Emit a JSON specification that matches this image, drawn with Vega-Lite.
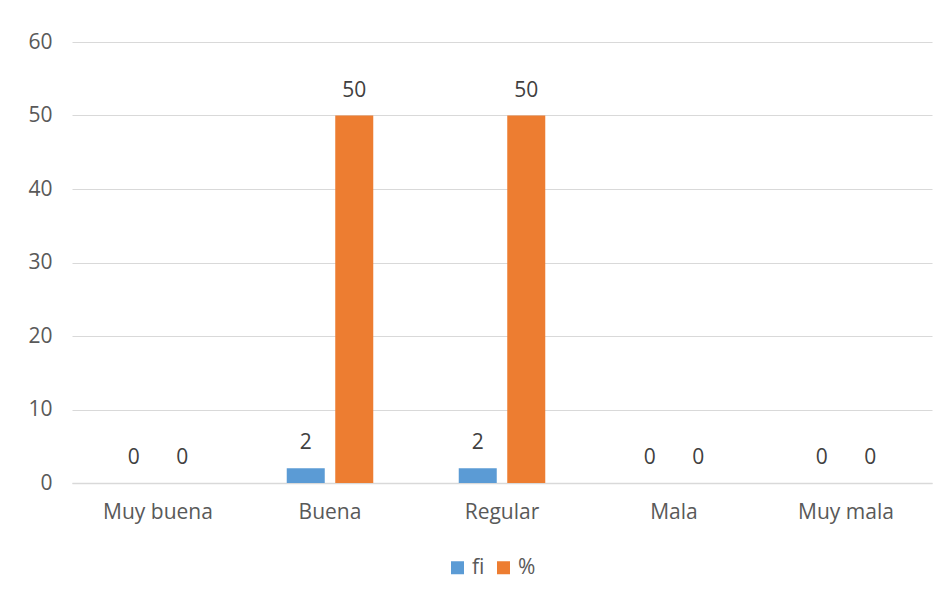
{
  "$schema": "https://vega.github.io/schema/vega-lite/v6.json",
  "width": 860,
  "height": 441,
  "autosize": {"type": "none"},
  "padding": {"left": 72, "top": 42, "right": 16, "bottom": 117},
  "background": "white",
  "config": {
    "view": {"stroke": null},
    "font": "Open Sans"
  },
  "data": {
    "values": [
      {"categoria": "Muy buena", "serie": "fi", "valor": 0},
      {"categoria": "Muy buena", "serie": "%", "valor": 0},
      {"categoria": "Buena", "serie": "fi", "valor": 2},
      {"categoria": "Buena", "serie": "%", "valor": 50},
      {"categoria": "Regular", "serie": "fi", "valor": 2},
      {"categoria": "Regular", "serie": "%", "valor": 50},
      {"categoria": "Mala", "serie": "fi", "valor": 0},
      {"categoria": "Mala", "serie": "%", "valor": 0},
      {"categoria": "Muy mala", "serie": "fi", "valor": 0},
      {"categoria": "Muy mala", "serie": "%", "valor": 0}
    ]
  },
  "encoding": {
    "x": {
      "field": "categoria",
      "type": "nominal",
      "sort": ["Muy buena", "Buena", "Regular", "Mala", "Muy mala"],
      "scale": {"paddingInner": 0, "paddingOuter": 0},
      "axis": {
        "title": null,
        "labelAngle": 0,
        "ticks": false,
        "grid": false,
        "domainColor": "#D9D9D9",
        "domainWidth": 1.5,
        "labelColor": "#595959",
        "labelFontSize": 21,
        "labelPadding": 18
      }
    },
    "xOffset": {
      "field": "serie",
      "sort": ["fi", "%"],
      "scale": {"paddingInner": 0.2165, "paddingOuter": 0.881}
    },
    "y": {
      "field": "valor",
      "type": "quantitative",
      "scale": {"domain": [0, 60]},
      "axis": {
        "title": null,
        "values": [0, 10, 20, 30, 40, 50, 60],
        "domain": false,
        "ticks": false,
        "gridColor": "#D9D9D9",
        "gridWidth": 1,
        "labelColor": "#595959",
        "labelFontSize": 21,
        "labelPadding": 20
      }
    }
  },
  "layer": [
    {
      "mark": {"type": "bar"},
      "encoding": {
        "color": {
          "field": "serie",
          "type": "nominal",
          "sort": ["fi", "%"],
          "scale": {"domain": ["fi", "%"], "range": ["#5B9BD5", "#ED7D31"]},
          "legend": {
            "title": null,
            "orient": "none",
            "direction": "horizontal",
            "legendX": 375,
            "legendY": 515,
            "symbolType": "square",
            "symbolSize": 169,
            "symbolStrokeWidth": 0,
            "labelFontSize": 21,
            "labelColor": "#595959",
            "labelOffset": 4,
            "columnPadding": 8
          }
        }
      }
    },
    {
      "mark": {"type": "text", "baseline": "alphabetic", "dy": -19, "fontSize": 21, "color": "#404040"},
      "encoding": {"text": {"field": "valor", "type": "quantitative"}}
    }
  ]
}
